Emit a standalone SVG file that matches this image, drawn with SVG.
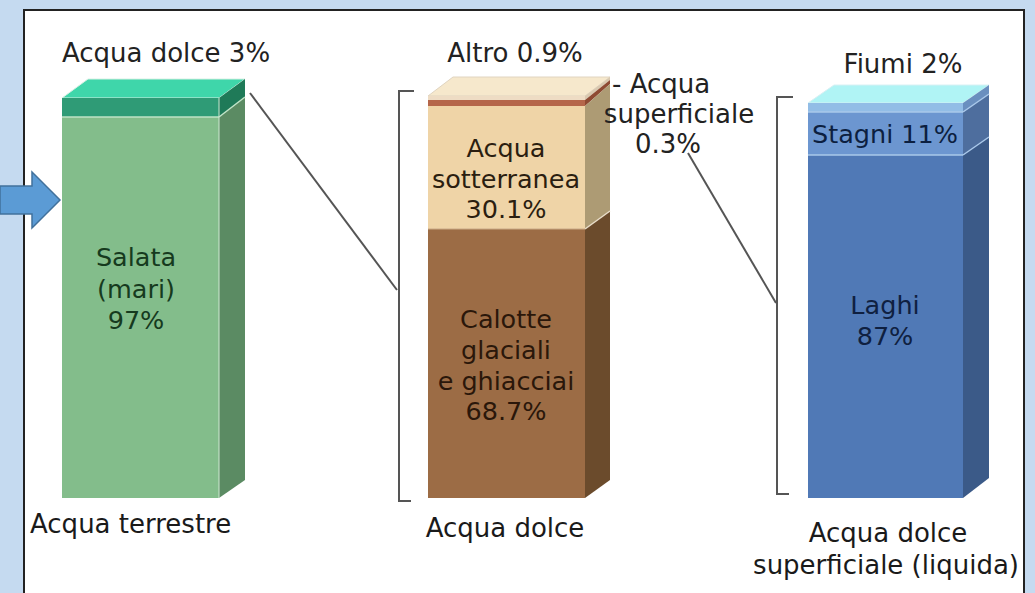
<svg xmlns="http://www.w3.org/2000/svg" width="1035" height="593" viewBox="0 0 1035 593">
<style>
.lbl{font-family:"DejaVu Sans","Verdana",sans-serif;font-size:26px;fill:#222;}
.in{font-family:"DejaVu Sans","Verdana",sans-serif;font-size:25.5px;text-anchor:middle;}
.bot{font-family:"DejaVu Sans","Verdana",sans-serif;font-size:26px;fill:#1a1a1a;}
.con{stroke:#555;stroke-width:2;fill:none;}
</style>
<rect x="0" y="0" width="1035" height="593" fill="#c5daf0"/>
<rect x="24" y="10" width="1000" height="600" fill="#ffffff" stroke="#222" stroke-width="2"/>

<g id="arrow">
<polygon points="0,186 32,186 32,172 60,200 32,228 32,214 0,214" fill="#5b9bd5" stroke="#41719c" stroke-width="1.5"/>
</g>

<g id="bar-terrestre">
<polygon points="62,98 88,79 245,79 219,98" fill="#3fd6aa" stroke="#d8f0e4" stroke-width="1"/>
<rect x="62" y="98" width="157" height="19" fill="#2f9b76"/>
<rect x="62" y="117" width="157" height="381" fill="#83bd8b"/>
<polygon points="219,98 245,79 245,97 219,117" fill="#1f7a58"/>
<polygon points="219,117 245,97 245,480 219,498" fill="#5b8b63"/>
<line x1="62" y1="117" x2="219" y2="117" stroke="#bfe3c6" stroke-width="1.5"/>
<line x1="219" y1="117" x2="245" y2="97" stroke="#bfe3c6" stroke-width="1.5"/>
<line x1="219" y1="98" x2="219" y2="498" stroke="#cfe6d2" stroke-width="1"/>
<text class="in" x="136" y="266" fill="#163a1e">Salata</text>
<text class="in" x="136" y="298" fill="#163a1e">(mari)</text>
<text class="in" x="136" y="329" fill="#163a1e">97%</text>
</g>

<g id="bar-dolce">
<polygon points="428,96 453,77 610,77 585,96" fill="#f6e8cc" stroke="#e0d4c0" stroke-width="1"/>
<rect x="428" y="96" width="157" height="4" fill="#eedcc4"/>
<rect x="428" y="100" width="157" height="6" fill="#b5664a"/>
<rect x="428" y="106" width="157" height="123" fill="#efd4a7"/>
<rect x="428" y="229" width="157" height="269" fill="#9c6c45"/>
<polygon points="585,96 610,77 610,80 585,100" fill="#d9c9b0"/>
<polygon points="585,100 610,80 610,84 585,106" fill="#8e4a32"/>
<polygon points="585,106 610,84 610,211 585,229" fill="#ad9b74"/>
<polygon points="585,229 610,211 610,480 585,498" fill="#6b4b2c"/>
<line x1="585" y1="229" x2="610" y2="211" stroke="#e8dcc8" stroke-width="1.5"/>
<line x1="428" y1="229" x2="585" y2="229" stroke="#c9a986" stroke-width="1"/>
<text class="in" x="506" y="157" fill="#2b1e10">Acqua</text>
<text class="in" x="506" y="188" fill="#2b1e10">sotterranea</text>
<text class="in" x="506" y="218" fill="#2b1e10">30.1%</text>
<text class="in" x="506" y="328" fill="#2a170a">Calotte</text>
<text class="in" x="506" y="359" fill="#2a170a">glaciali</text>
<text class="in" x="506" y="390" fill="#2a170a">e ghiacciai</text>
<text class="in" x="506" y="420" fill="#2a170a">68.7%</text>
</g>

<g id="bar-superficiale">
<polygon points="808,103 834,85 989,85 963,103" fill="#b0f4f5" stroke="#d8f0f4" stroke-width="1"/>
<rect x="808" y="103" width="155" height="9" fill="#92bde6"/>
<rect x="808" y="112" width="155" height="43" fill="#6c96d0"/>
<rect x="808" y="155" width="155" height="343" fill="#5079b6"/>
<polygon points="963,103 989,85 989,94 963,112" fill="#6a8fbf"/>
<polygon points="963,112 989,94 989,137 963,155" fill="#4e6e9e"/>
<polygon points="963,155 989,137 989,478 963,498" fill="#3b5a88"/>
<line x1="808" y1="112" x2="963" y2="112" stroke="#a9c8ea" stroke-width="1.5"/>
<line x1="808" y1="155" x2="963" y2="155" stroke="#a9c8ea" stroke-width="1.5"/>
<line x1="963" y1="155" x2="989" y2="137" stroke="#a9c8ea" stroke-width="1.5"/>
<line x1="963" y1="112" x2="989" y2="94" stroke="#a9c8ea" stroke-width="1.5"/>
<text class="in" x="885" y="143" fill="#0c1f40" font-size="25.5">Stagni 11%</text>
<text class="in" x="885" y="314" fill="#0f2040">Laghi</text>
<text class="in" x="885" y="345" fill="#0f2040">87%</text>
</g>

<g id="labels">
<text class="lbl" x="166" y="62" text-anchor="middle">Acqua dolce 3%</text>
<text class="lbl" x="515" y="62" text-anchor="middle">Altro 0.9%</text>
<text class="lbl" x="612" y="93">- Acqua</text>
<text class="lbl" x="679" y="123" text-anchor="middle">superficiale</text>
<text class="lbl" x="668" y="153" text-anchor="middle">0.3%</text>
<text class="lbl" x="903" y="73" text-anchor="middle">Fiumi 2%</text>
<text class="bot" x="30" y="533">Acqua terrestre</text>
<text class="bot" x="505" y="537" text-anchor="middle">Acqua dolce</text>
<text class="bot" x="888" y="542" text-anchor="middle">Acqua dolce</text>
<text class="bot" x="1019" y="574" text-anchor="end">superficiale (liquida)</text>
</g>

<g id="connectors">
<polyline class="con" points="414,91 399,91 399,501 411,501"/>
<polyline class="con" points="793,97 777,97 777,494 789,494"/>
<line class="con" x1="250" y1="93" x2="397" y2="290"/>
<line class="con" x1="688" y1="153" x2="776" y2="303"/>
</g>
</svg>
